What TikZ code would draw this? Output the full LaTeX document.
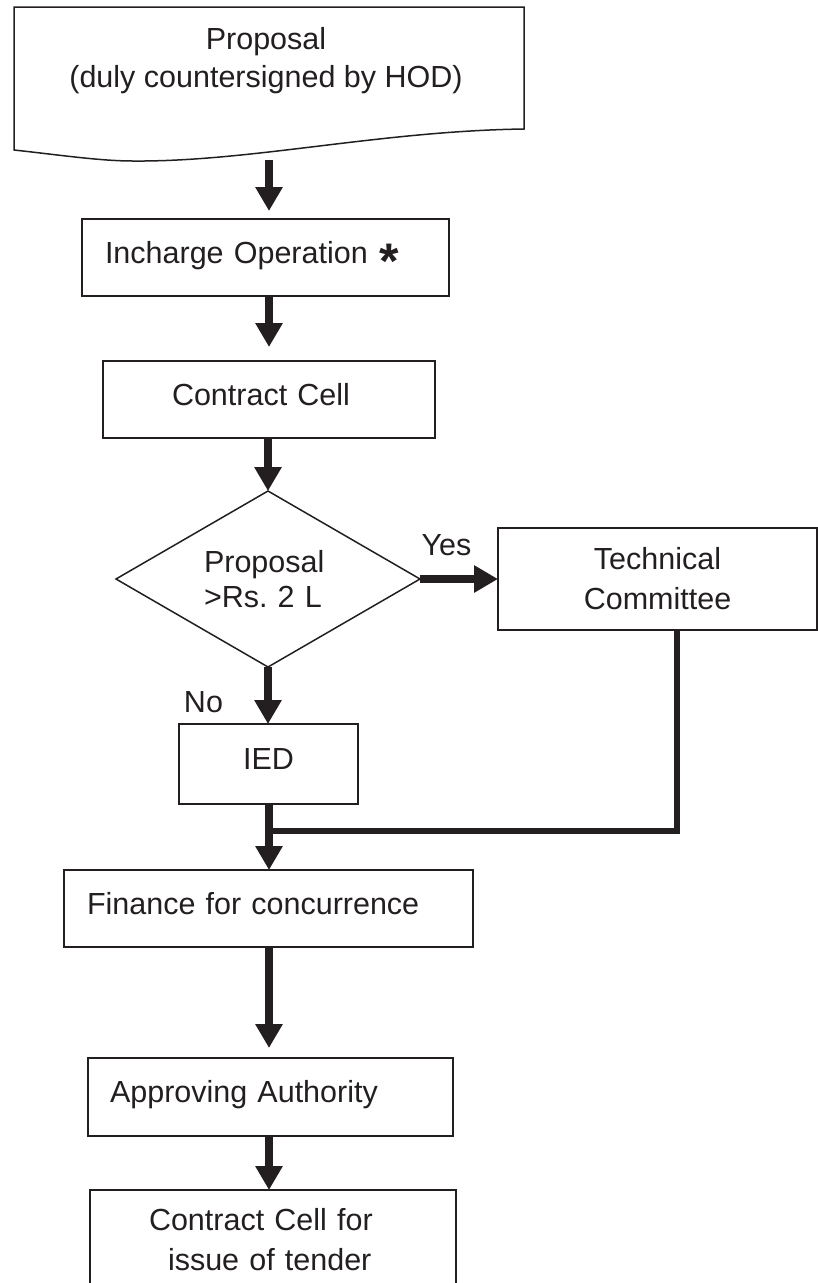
\documentclass[tikz,border=0pt]{standalone}
\usepackage{fontspec}
\setmainfont{Liberation Sans}
\usetikzlibrary{arrows.meta,shapes.geometric}
\definecolor{ink}{HTML}{231F20}
\frenchspacing

\begin{document}
\begin{tikzpicture}[x=1pt, y=-1pt,
  every node/.style={font=\fontsize{30.5}{40}\selectfont, text=ink},
  box/.style={draw=ink, line width=1.8pt, rectangle, inner sep=0pt, outer sep=0pt},
  onebox/.style={box, align=left, text height=22pt, text depth=11pt},
  decide/.style={draw=ink, line width=1.5pt, diamond, aspect=1.73, inner sep=0pt, outer sep=0pt, align=left, text width=128pt},
  arr/.style={draw=ink, line width=8pt, -{Triangle[length=24pt, width=26pt]}},
  feed/.style={draw=ink, line width=6pt, line join=miter}]

  \useasboundingbox (0,0) rectangle (818,1283);

  % document shape at the top
  \draw[ink, line width=1.5pt] (14,7) -- (524,7) -- (524,129)
    .. controls (380,131) and (250,162) .. (133,161)
    .. controls (100,161) and (60,155) .. (14,150) -- cycle;
  \node[align=center] (prop) at (266,61) {Proposal\\[-2pt](duly countersigned by HOD)};
  \coordinate (propend) at (269,160);
  \coordinate (spine) at (269,0);

  % boxes down the left column
  \node[onebox, minimum width=367pt, minimum height=77pt, text width=321pt] (inop) at (265.5,257.5)
    {Incharge Operation\hspace{12pt}\smash{\raisebox{-15pt}{\fontsize{50}{50}\selectfont\bfseries *}}};
  \node[onebox, minimum width=332pt, minimum height=77pt, text width=194pt] (cc) at (269,399.5) {Contract Cell};
  \node[decide, minimum width=304pt, minimum height=176pt] (dm) at (268,579) {Proposal\\[-5pt]>Rs. 2 L};
  \node[box, align=center, minimum width=319pt, minimum height=102pt] (tc) at (657.5,579) {Technical\\Committee};
  \node[onebox, minimum width=179pt, minimum height=80pt] (ied) at (268.5,764) {IED};
  \node[onebox, minimum width=409pt, minimum height=77pt, text width=363pt] (fin) at (268.5,908.5) {Finance for concurrence};
  \node[onebox, minimum width=365pt, minimum height=78pt, text width=321pt] (apr) at (270.5,1097) {Approving Authority};
  \node[box, align=left, anchor=north, minimum width=366pt, minimum height=100pt, text width=248pt] (cct) at (273,1190)
    {Contract Cell for\\\hspace*{19pt}issue of tender};

  % arrows
  \draw[arr, shorten >=8pt] (propend) -- (inop.north -| spine);
  \draw[arr, shorten >=14pt] (inop.south -| spine) -- (cc.north -| spine);
  \draw[arr] (cc.south -| dm.north) -- (dm.north);
  \draw[arr] (dm.east) -- (tc.west);
  \node[anchor=base west] (yes) at ([xshift=-2pt,yshift=24pt]dm.east) {Yes};
  \draw[arr] (dm.south) -- (dm.south |- ied.north);
  \node[anchor=base east] (no) at ([xshift=-42pt,yshift=12pt]ied.north) {No};
  \draw[arr] (ied.south -| spine) -- (fin.north -| spine);

  % technical committee joins below IED
  \coordinate[yshift=-27pt] (jn) at (spine |- ied.south);
  \draw[feed] ([xshift=19.5pt]tc.south) |- (jn);

  \draw[arr, shorten >=10pt] (fin.south -| spine) -- (apr.north -| spine);
  \draw[arr] (apr.south -| spine) -- (cct.north -| spine);
\end{tikzpicture}
\end{document}
